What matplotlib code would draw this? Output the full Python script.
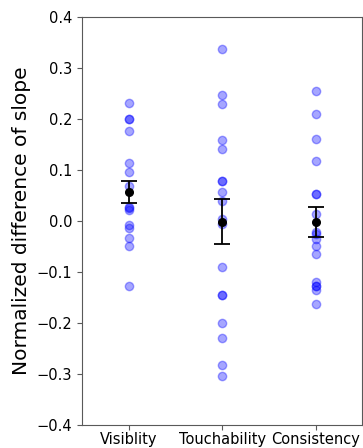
import numpy as np
import matplotlib
matplotlib.use("Agg")
import matplotlib.pyplot as plt

# categories and per-participant values
categories = ['Visiblity', 'Touchability', 'Consistency']
visibility = [0.231, 0.200, 0.200, 0.176, 0.113, 0.097, 0.069, 0.028, 0.025, 0.022,
              -0.008, -0.014, -0.034, -0.048, -0.127]
touchability = [0.337, 0.247, 0.230, 0.159, 0.141, 0.078, 0.078, 0.057, 0.039, 0.005,
                -0.005, -0.090, -0.144, -0.144, -0.199, -0.230, -0.282, -0.304]
consistency = [0.255, 0.209, 0.160, 0.118, 0.054, 0.054, 0.013, -0.022, -0.026, -0.035,
               -0.048, -0.065, -0.120, -0.127, -0.127, -0.135, -0.162]

# means and standard errors
means = [0.057, -0.001, -0.002]
errors = [0.022, 0.044, 0.029]

fig, ax = plt.subplots(figsize=(3.63, 4.48), dpi=100)
fig.subplots_adjust(left=0.226, right=0.998, top=0.962, bottom=0.051)

for i, vals in enumerate([visibility, touchability, consistency]):
    ax.scatter(np.full(len(vals), i), vals, s=36, color='blue', alpha=0.35, zorder=2)

ax.errorbar(range(len(categories)), means, yerr=errors, fmt='o', color='black',
            markersize=5.5, capsize=6, elinewidth=1.3, capthick=1.3, zorder=3)

ax.set_xlim(-0.5, 2.5)
ax.set_ylim(-0.4, 0.4)
ax.set_xticks(range(len(categories)))
ax.set_xticklabels(categories, fontsize=10.5)
ax.set_yticks(np.arange(-0.4, 0.41, 0.1))
ax.tick_params(axis='y', labelsize=10.5)
ax.tick_params(axis='x', pad=1.5)
ax.tick_params(colors='0.35', labelcolor='black')
ax.set_ylabel('Normalized difference of slope', fontsize=14.5)
for sp in ax.spines.values():
    sp.set_color('0.35')

fig.savefig('out.png', dpi=100)
